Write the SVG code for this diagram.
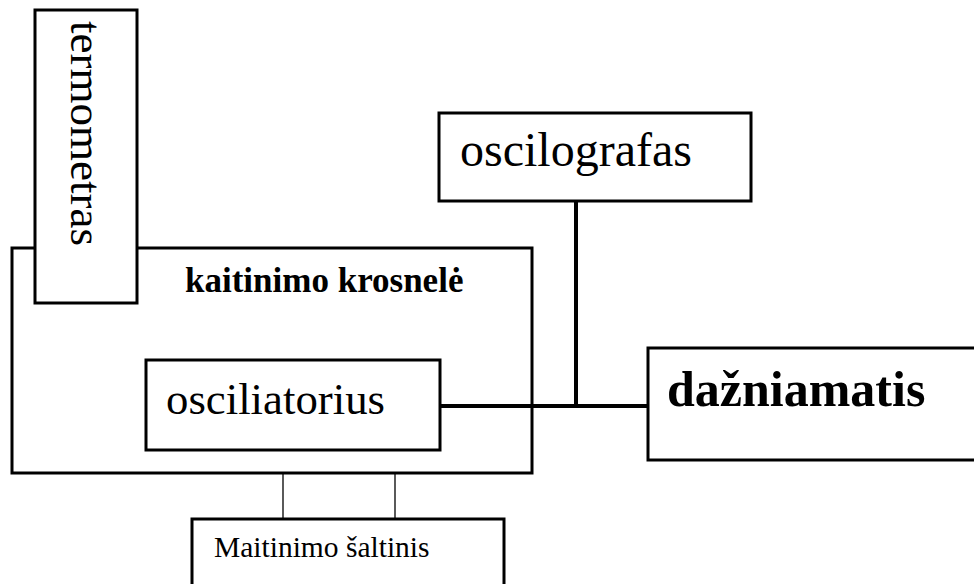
<svg xmlns="http://www.w3.org/2000/svg" width="974" height="584" viewBox="0 0 974 584">
  <style>
    .box { fill: #ffffff; stroke: #000000; stroke-width: 3; }
    .wire { stroke: #000000; stroke-width: 4; fill: none; }
    .thin { stroke: #000000; stroke-width: 1.3; fill: none; }
    .lbl { font-family: "Liberation Serif", "Times New Roman", serif; fill: #000000; }
    .b { font-weight: bold; }
  </style>
  <rect width="974" height="584" fill="#ffffff"/>

  <!-- heating furnace enclosure -->
  <g id="krosnele">
    <rect class="box" x="12" y="248" width="520" height="225"/>
    <text class="lbl b" x="185" y="292" font-size="35">kaitinimo krosnelė</text>
  </g>

  <!-- connectors -->
  <g id="connectors">
    <line class="wire" x1="440" y1="406" x2="648" y2="406"/>
    <line class="wire" x1="576" y1="201" x2="576" y2="406"/>
    <line class="thin" x1="283" y1="473" x2="283" y2="519"/>
    <line class="thin" x1="395" y1="473" x2="395" y2="519"/>
  </g>

  <g id="termometras">
    <rect class="box" x="35" y="10" width="102" height="293"/>
    <text class="lbl" x="71" y="21" font-size="45" transform="rotate(90 71 21)">termometras</text>
  </g>

  <g id="osciliatorius">
    <rect class="box" x="146" y="360" width="294" height="90"/>
    <text class="lbl" x="166" y="414" font-size="44.8">osciliatorius</text>
  </g>

  <g id="oscilografas">
    <rect class="box" x="439" y="113" width="312" height="88"/>
    <text class="lbl" x="460" y="166" font-size="48">oscilografas</text>
  </g>

  <g id="dazniamatis">
    <rect class="box" x="648" y="348" width="340" height="112"/>
    <text class="lbl b" x="667" y="406" font-size="50">dažniamatis</text>
  </g>

  <g id="maitinimo-saltinis">
    <rect class="box" x="192" y="519" width="312" height="80"/>
    <text class="lbl" x="214" y="557" font-size="29.5">Maitinimo šaltinis</text>
  </g>
</svg>
